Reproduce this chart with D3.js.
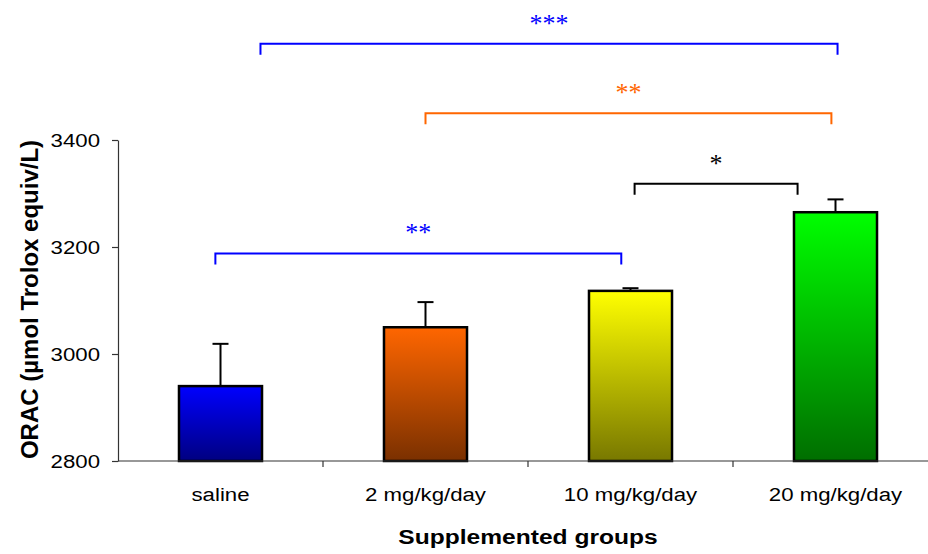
<!DOCTYPE html>
<html>
<head>
<meta charset="utf-8">
<script src="https://cdn.jsdelivr.net/npm/d3@7"></script>
<style>
	body { margin: 0; background: #fff; }
	svg { display: block; font-family: Arial, "Liberation Sans", sans-serif; }
</style>
</head>
<body>
<svg id="chart" width="928" height="554"></svg>
<script>
// data
let groups = ['saline', '2 mg/kg/day', '10 mg/kg/day', '20 mg/kg/day']
let means = [2940, 3050, 3118, 3265]
let errors = [79, 47, 5, 24]
let topColors = ['#0000ff', '#ff6600', '#ffff00', '#00ff00']
let bottomColors = ['#000080', '#7a3000', '#787800', '#006e00']
let yTicks = [2800, 3000, 3200, 3400]

// significance brackets: from/to group, level in y units, label
let brackets = [
	{from: 0, to: 3, fromOff: 0.195, toOff: 0.01, level: 3580, label: '***', color: '#0000ff'},
	{from: 1, to: 3, fromOff: 0, toOff: -0.02, level: 3450, label: '**', color: '#ff6600'},
	{from: 2, to: 3, fromOff: 0.02, toOff: -0.185, level: 3318, label: '*', color: '#000000'},
	{from: 0, to: 2, fromOff: -0.025, toOff: -0.045, level: 3188, label: '**', color: '#0000ff'}
]

let margin = {left: 118, right: -10, top: 140, bottom: 93}
let width = 928
let height = 554
let stretch = 1.17   // horizontal text in the original is a bit widened

let svg = d3.select('#chart')

let x = d3.scaleBand()
	.domain(groups)
	.range([margin.left, width - margin.right])
	.paddingInner(0.595)
	.paddingOuter(0.2975)

let step = x.step()

let y = d3.scaleLinear()
	.domain([2800, 3400])
	.range([height - margin.bottom, margin.top])

let defs = svg.append('defs')

groups.forEach((g, i) => {
	let grad = defs.append('linearGradient')
		.attr('id', 'grad' + i)
		.attr('x1', 0).attr('x2', 0)
		.attr('y1', 0).attr('y2', 1)
	grad.append('stop').attr('offset', '0%').attr('stop-color', topColors[i])
	grad.append('stop').attr('offset', '100%').attr('stop-color', bottomColors[i])
})

// bars
svg.append('g')
	.selectAll('rect')
	.data(groups)
	.enter()
	.append('rect')
	.attr('x', d => x(d))
	.attr('width', x.bandwidth())
	.attr('y', (d, i) => y(means[i]))
	.attr('height', (d, i) => y(2800) - y(means[i]))
	.attr('fill', (d, i) => `url(#grad${i})`)
	.attr('stroke', '#000')
	.attr('stroke-width', 2.5)

// error bars (upper only)
let err = svg.append('g')
	.attr('stroke', '#000')
	.attr('stroke-width', 2)

groups.forEach((g, i) => {
	let cx = x(g) + x.bandwidth() / 2
	err.append('line')
		.attr('x1', cx).attr('x2', cx)
		.attr('y1', y(means[i])).attr('y2', y(means[i] + errors[i]))
	err.append('line')
		.attr('x1', cx - 8).attr('x2', cx + 8)
		.attr('y1', y(means[i] + errors[i])).attr('y2', y(means[i] + errors[i]))
})

// y axis
let yAxis = svg.append('g')
	.attr('transform', `translate(${margin.left},0)`)
	.call(d3.axisLeft(y).tickValues(yTicks).tickFormat(d3.format('d')).tickSize(6).tickSizeOuter(0))

yAxis.select('.domain').attr('stroke', '#333').attr('stroke-width', 1.2)
yAxis.selectAll('.tick line').attr('stroke', '#333').attr('stroke-width', 1.2)
yAxis.selectAll('.tick text')
	.attr('x', 0)
	.attr('transform', `translate(-18,0) scale(${stretch},1)`)
	.attr('font-size', 19)
	.attr('font-family', 'Arial, "Liberation Sans", sans-serif')
	.attr('fill', '#000')

// x axis: line with ticks between groups
let xg = svg.append('g')
	.attr('transform', `translate(0,${y(2800)})`)

xg.append('line')
	.attr('x1', margin.left)
	.attr('x2', width)
	.attr('stroke', '#333')
	.attr('stroke-width', 1.2)

xg.selectAll('.sep')
	.data(groups.slice(1))
	.enter()
	.append('line')
	.attr('x1', d => x(d) - (step - x.bandwidth()) / 2)
	.attr('x2', d => x(d) - (step - x.bandwidth()) / 2)
	.attr('y1', 0)
	.attr('y2', 6)
	.attr('stroke', '#333')
	.attr('stroke-width', 1.2)

xg.selectAll('.lbl')
	.data(groups)
	.enter()
	.append('text')
	.attr('transform', d => `translate(${x(d) + x.bandwidth() / 2},40) scale(${stretch},1)`)
	.attr('text-anchor', 'middle')
	.attr('font-size', 19)
	.text(d => d)

// axis titles
svg.append('text')
	.attr('transform', `translate(528,544) scale(${stretch},1)`)
	.attr('text-anchor', 'middle')
	.attr('font-size', 21)
	.attr('font-weight', 'bold')
	.text('Supplemented groups')

svg.append('text')
	.attr('transform', `translate(38,${(y(2800) + y(3400)) / 2 - 1}) rotate(-90)`)
	.attr('text-anchor', 'middle')
	.attr('font-size', 24)
	.attr('font-weight', 'bold')
	.text('ORAC (µmol Trolox equiv/L)')

// significance brackets
let cxOf = (i, off) => x(groups[i]) + x.bandwidth() / 2 + off * step

let br = svg.append('g')

brackets.forEach(b => {
	let x1 = cxOf(b.from, b.fromOff)
	let x2 = cxOf(b.to, b.toOff)
	let yl = y(b.level)
	br.append('path')
		.attr('d', `M${x1},${yl + 11}V${yl}H${x2}V${yl + 11}`)
		.attr('fill', 'none')
		.attr('stroke', b.color)
		.attr('stroke-width', 2)
	br.append('text')
		.attr('x', (x1 + x2) / 2)
		.attr('y', yl - 12)
		.attr('text-anchor', 'middle')
		.attr('font-size', 26)
		.attr('font-family', '"Liberation Serif", "Times New Roman", serif')
		.attr('fill', b.color)
		.text(b.label)
})
</script>
</body>
</html>
